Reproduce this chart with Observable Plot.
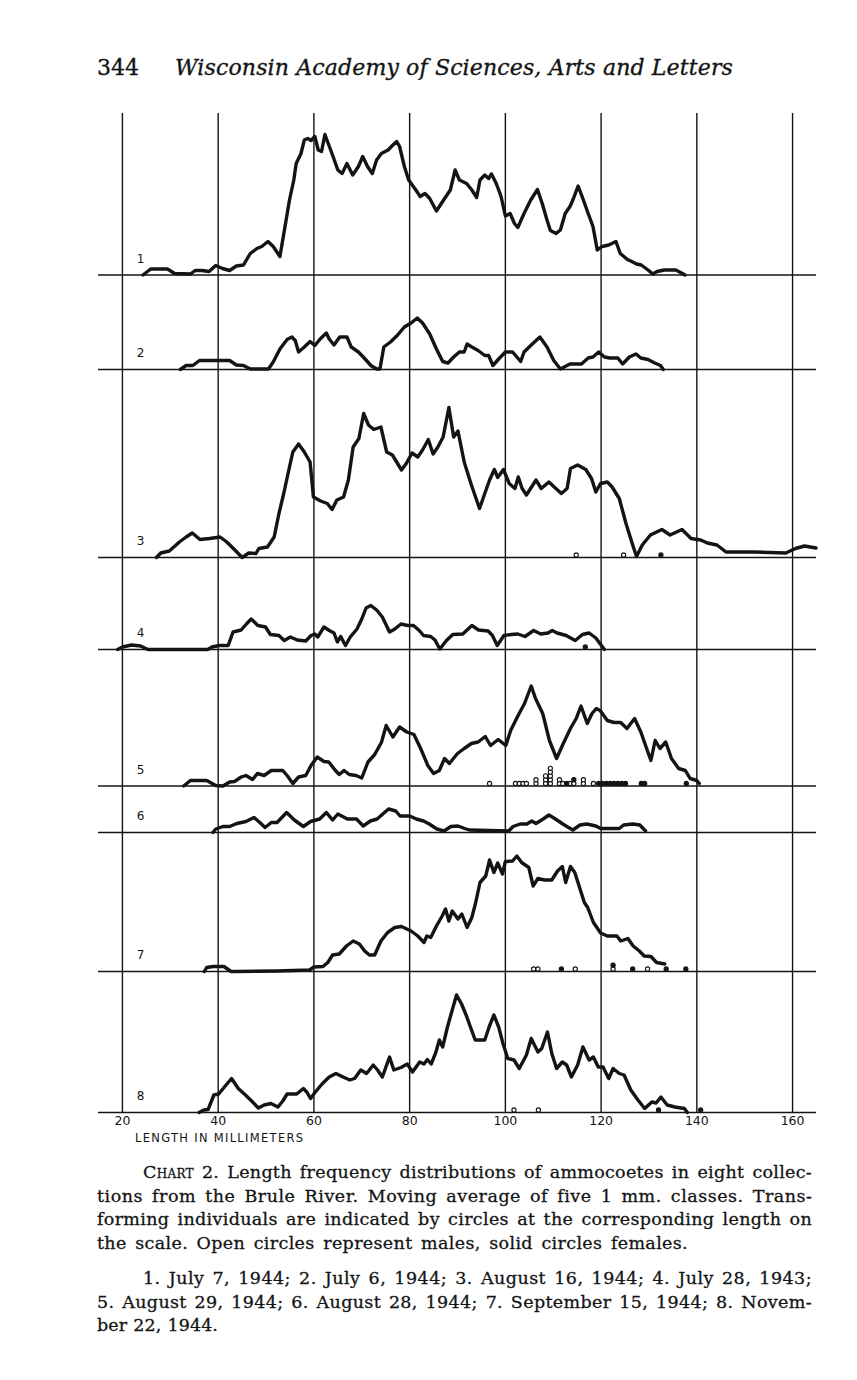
<!DOCTYPE html>
<html><head><meta charset="utf-8">
<script src="https://cdn.jsdelivr.net/npm/d3@7"></script>
<script src="https://cdn.jsdelivr.net/npm/@observablehq/plot@0.6"></script>
<style>
html,body{margin:0;padding:0;background:#fff;}
body{width:857px;height:1380px;position:relative;overflow:hidden;color:#141414;}
#head{position:absolute;top:55px;left:0;font-family:"DejaVu Serif",serif;font-size:22px;line-height:25px;white-space:nowrap;-webkit-text-stroke:0.35px #141414;}
#pg{position:absolute;left:97px;top:0;}
#run{position:absolute;left:175px;top:0;font-style:italic;}
#chart{position:absolute;left:0;top:100px;}
#xlab{position:absolute;left:135px;top:1132px;font-family:"DejaVu Sans",sans-serif;font-size:11.5px;line-height:13px;letter-spacing:1.3px;white-space:nowrap;}
#cap{position:absolute;left:97px;top:1161px;width:715px;font-family:"DejaVu Serif",serif;font-size:17.5px;line-height:23.7px;-webkit-text-stroke:0.3px #141414;}
.ln{display:block;white-space:nowrap;}
.ln .t{display:inline-block;white-space:nowrap;}
.ind{padding-left:46px;}
.gap{margin-top:11px;}
.sc{font-variant:small-caps;}
</style>
</head><body>
<div id="head"><span id="pg">344</span><span id="run">Wisconsin Academy of Sciences, Arts and Letters</span></div>
<div id="chart"></div>
<div id="xlab">LENGTH IN MILLIMETERS</div>
<div id="cap">
  <div class="ln ind"><span class="t fit" data-w="669">C<span class="sc">hart</span> 2. Length frequency distributions of ammocoetes in eight collec-</span></div>
  <div class="ln"><span class="t fit" data-w="715">tions from the Brule River. Moving average of five 1 mm. classes. Trans-</span></div>
  <div class="ln"><span class="t fit" data-w="715">forming individuals are indicated by circles at the corresponding length on</span></div>
  <div class="ln"><span class="t fit" data-w="591">the scale. Open circles represent males, solid circles females.</span></div>
  <div class="ln ind gap"><span class="t fit" data-w="669">1. July 7, 1944; 2. July 6, 1944; 3. August 16, 1944; 4. July 28, 1943;</span></div>
  <div class="ln"><span class="t fit" data-w="715">5. August 29, 1944; 6. August 28, 1944; 7. September 15, 1944; 8. Novem-</span></div>
  <div class="ln"><span class="t fit" data-w="121">ber 22, 1944.</span></div>
</div>
<script>
// ---- data: length (mm) and moving-average frequency (individuals) per collection ----
const xTicks = [20, 40, 60, 80, 100, 120, 140, 160];
const panelIds = ["1", "2", "3", "4", "5", "6", "7", "8"];
// baseline of each collection on the stacked frequency scale
const panelBase = [167.5, 148.6, 111.0, 92.6, 65.3, 56.0, 28.2, 0];
const yTop = 199.8;

const curve1 = [[24.3,0],[25.9,1.2],[29.4,1.2],[30.9,0.3],[34.2,0.2],[35.2,0.9],[36.6,0.9],[38.1,0.7],[39.5,1.9],[40.9,1.3],[42.4,0.9],[43.8,1.8],[45.3,2.0],[46.7,4.3],[48.1,5.3],[49.1,5.7],[50.4,6.7],[51.5,5.7],[52.9,3.7],[53.9,9.3],[54.9,15.0],[55.8,19.0],[56.3,22.3],[57.3,24.3],[58.0,27.0],[58.7,27.3],[59.4,26.9],[60.2,27.7],[60.9,25.0],[61.6,24.7],[62.3,28.1],[63.0,26.3],[64.0,23.7],[65.0,21.0],[65.9,20.3],[66.9,22.3],[68.1,20.0],[69.3,21.7],[70.2,23.7],[71.2,21.7],[72.2,20.3],[73.1,23.0],[74.1,24.3],[75.5,25.0],[76.5,26.0],[77.3,26.7],[77.9,25.7],[78.9,21.7],[79.8,19.0],[81.3,17.0],[82.2,15.7],[83.2,16.3],[84.2,15.3],[85.6,12.8],[87.1,15.0],[88.5,17.0],[89.5,21.0],[90.4,19.0],[91.9,18.3],[93.0,17.0],[94.0,15.5],[94.7,19.0],[95.7,20.0],[96.5,19.3],[97.1,20.2],[98.1,18.3],[99.1,15.7],[100.0,11.8],[101.0,12.3],[101.9,10.3],[102.6,9.5],[103.9,12.3],[105.3,15.0],[106.7,17.1],[107.7,14.3],[108.7,11.0],[109.4,8.9],[110.6,8.3],[111.5,9.0],[112.5,12.3],[113.5,13.7],[114.1,15.0],[115.2,17.8],[116.3,15.0],[117.3,12.3],[118.3,9.7],[119.2,5.0],[120.2,5.7],[121.6,6.0],[123.1,6.7],[124.0,4.3],[125.5,3.1],[126.4,2.7],[127.4,2.2],[128.4,2.0],[129.8,1.0],[130.8,0.2],[131.7,0.7],[133.2,1.0],[135.6,1.0],[137.0,0.3],[137.5,0]];
const curve2 = [[32.1,0],[33.3,0.8],[34.7,0.8],[36.1,1.8],[42.4,1.8],[43.8,0.9],[45.3,0.8],[46.7,0.1],[50.5,0.1],[51.5,1.5],[52.9,4.1],[54.4,6.0],[55.4,6.5],[56.1,5.8],[56.8,3.5],[58.0,4.5],[59.2,5.6],[60.2,4.8],[61.3,6.1],[62.6,7.3],[63.2,6.1],[64.2,4.9],[65.4,6.5],[66.9,6.5],[67.8,4.5],[69.3,3.5],[70.7,2.1],[71.9,0.8],[73.1,0.1],[73.8,0.1],[74.6,4.5],[76.0,5.5],[77.4,6.8],[78.9,8.5],[80.3,9.3],[81.6,10.3],[82.7,9.3],[84.2,7.1],[85.6,4.1],[86.9,1.6],[88.0,1.3],[89.2,2.5],[90.4,3.5],[91.4,3.5],[92.0,5.1],[93.0,4.5],[94.3,3.8],[95.7,2.8],[96.5,2.8],[97.4,0.8],[98.6,2.1],[100.0,3.5],[101.5,3.5],[102.4,2.5],[103.2,1.6],[103.9,3.5],[105.3,4.8],[107.2,6.5],[108.7,4.5],[110.1,1.8],[111.5,0.1],[113.5,1.1],[115.9,1.1],[117.3,2.3],[118.3,2.5],[119.5,3.5],[120.7,2.5],[121.8,2.3],[123.5,2.3],[124.5,1.1],[125.9,2.5],[127.3,3.1],[128.3,2.3],[129.8,2.0],[131.2,1.3],[132.4,0.8],[133.0,0]];
const curve3 = [[27.1,0],[28.0,0.9],[29.8,1.3],[31.9,3.1],[33.3,4.1],[34.6,4.9],[36.2,3.6],[38.2,3.8],[40.4,4.1],[41.8,3.1],[43.5,1.5],[45.0,0],[46.4,0.9],[47.9,0.8],[48.5,1.8],[50.3,2.1],[51.7,4.1],[52.7,8.8],[53.7,12.8],[54.6,16.8],[55.6,21.1],[56.8,22.7],[58.0,21.1],[59.2,19.1],[59.9,12.1],[61.4,11.3],[62.8,10.8],[63.8,9.6],[64.8,11.5],[66.2,12.1],[67.2,15.5],[68.2,22.1],[69.4,23.8],[70.4,28.8],[71.4,26.5],[72.5,25.6],[74.0,26.1],[75.2,21.1],[76.4,20.5],[78.3,17.5],[79.3,18.8],[80.5,20.9],[81.7,20.1],[82.7,21.5],[83.9,23.6],[84.9,20.7],[85.9,22.1],[87.0,24.1],[88.2,30.0],[89.2,24.1],[90.1,25.3],[91.4,19.1],[92.8,14.8],[94.6,9.8],[95.7,12.8],[96.7,15.5],[97.7,17.6],[98.4,16.0],[99.6,17.6],[100.8,14.8],[102.0,13.8],[102.7,16.1],[103.5,13.8],[104.4,12.5],[106.4,15.5],[107.5,13.8],[109.1,15.1],[110.2,14.1],[111.7,12.8],[112.9,13.8],[113.6,17.8],[115.1,18.5],[116.8,17.6],[118.0,15.8],[118.9,13.1],[119.9,14.8],[121.3,15.1],[122.3,14.1],[123.8,11.8],[125.2,6.8],[126.5,2.8],[127.4,0.2],[128.6,2.5],[130.3,4.5],[132.7,5.6],[134.4,4.5],[136.9,5.6],[138.8,3.8],[140.8,3.5],[142.2,2.9],[144.2,2.5],[146.1,1.1],[151.9,1.1],[158.6,0.9],[160.6,1.8],[162.5,2.3],[164.9,1.9]];
const curve4 = [[19.0,0],[20.0,0.5],[21.9,0.9],[23.8,0.7],[25.3,0],[37.8,0],[38.7,0.5],[40.2,0.8],[42.1,0.8],[43.1,3.5],[44.8,3.9],[45.9,5.1],[46.9,6.1],[48.3,4.8],[49.9,4.5],[50.9,3.0],[52.7,2.8],[53.8,1.8],[55.1,2.5],[56.5,1.9],[58.3,1.7],[59.4,2.8],[60.2,3.1],[60.8,2.5],[62.1,4.5],[63.2,3.8],[64.2,3.3],[64.9,1.5],[65.6,2.6],[66.6,0.8],[67.6,2.5],[69.0,4.1],[70.0,6.1],[70.9,8.3],[71.9,8.8],[73.1,7.9],[74.3,6.5],[75.8,3.5],[76.9,4.1],[78.2,5.1],[79.6,4.8],[80.8,4.8],[82.0,3.8],[82.9,2.8],[84.4,2.6],[85.3,1.9],[86.3,0.1],[87.7,1.8],[89.0,3.0],[91.1,3.1],[93.0,4.8],[94.4,3.9],[96.4,3.7],[97.3,2.8],[98.3,0.8],[99.7,2.8],[101.2,3.0],[102.6,3.1],[104.1,2.6],[105.9,3.8],[107.4,3.1],[108.9,3.3],[109.8,3.8],[110.8,3.3],[112.7,2.8],[114.6,1.8],[116.1,3.0],[117.5,3.3],[118.9,2.3],[119.9,1.0],[120.7,0]];
const curve5 = [[32.8,0],[34.2,1.1],[37.6,1.1],[39.5,0.1],[41.0,0],[42.4,0.8],[43.4,0.9],[44.8,1.8],[45.8,2.1],[47.2,1.3],[48.2,2.5],[49.6,2.1],[51.1,3.1],[53.5,3.1],[54.4,2.1],[55.6,0.5],[56.8,1.8],[58.3,2.1],[59.4,4.1],[60.7,5.8],[62.1,4.9],[63.1,4.8],[64.5,3.1],[65.3,2.3],[66.3,3.1],[67.4,2.3],[68.8,2.1],[70.0,1.6],[71.3,4.8],[72.7,6.3],[74.1,8.7],[75.1,12.1],[76.5,9.8],[77.9,11.8],[79.4,10.8],[80.9,10.3],[82.3,7.5],[83.8,4.1],[85.0,2.5],[86.2,3.1],[87.3,5.5],[88.3,4.5],[90.0,6.5],[91.4,7.5],[92.9,8.5],[94.3,8.8],[95.8,9.9],[96.9,8.1],[98.5,9.3],[100.1,8.1],[101.1,11.1],[102.5,13.8],[104.0,16.5],[105.4,20.0],[106.3,17.5],[107.8,14.5],[109.2,9.1],[110.7,5.5],[112.1,8.5],[113.6,11.5],[114.8,13.5],[115.8,16.0],[117.1,12.5],[118.1,14.5],[119.0,15.5],[119.8,15.1],[121.3,13.1],[122.7,12.7],[124.1,12.7],[125.4,11.5],[127.0,13.5],[128.3,10.8],[129.4,7.8],[130.4,5.1],[131.3,9.1],[132.3,7.5],[133.5,8.8],[134.7,5.5],[136.2,3.5],[137.6,3.1],[138.6,1.5],[140.0,1.1],[140.5,0.5]];
const curve6 = [[38.9,0],[39.5,0.7],[41.0,1.2],[42.4,1.2],[43.9,1.8],[45.8,2.2],[47.5,3.0],[48.7,2.0],[49.8,1.0],[51.1,2.0],[52.3,2.0],[54.3,4.0],[55.9,2.5],[57.8,1.2],[59.3,2.2],[61.2,2.7],[62.6,4.0],[63.9,2.5],[65.0,3.7],[67.0,2.7],[68.9,2.7],[70.3,1.3],[71.8,2.3],[73.2,2.7],[75.6,4.7],[77.1,4.3],[78.0,3.3],[80.0,3.3],[81.4,2.7],[82.9,2.3],[84.1,1.7],[85.7,0.7],[87.2,0.3],[88.6,1.2],[90.1,1.3],[91.5,0.8],[92.5,0.5],[100.7,0.3],[101.6,1.2],[103.1,1.7],[104.5,1.7],[105.5,2.3],[106.4,1.8],[107.9,2.7],[109.1,3.5],[110.3,2.8],[112.0,1.7],[113.2,1.0],[114.1,0.5],[115.6,1.5],[117.0,1.7],[118.9,1.3],[119.9,0.8],[123.8,0.8],[124.7,1.5],[126.6,1.7],[128.1,1.5],[129.3,0.3]];
const curve7 = [[37.1,0],[37.6,0.8],[39.0,1.0],[41.2,1.0],[42.7,0],[43.6,0],[52.3,0.1],[59.1,0.3],[60.0,0.9],[61.9,1.0],[62.9,1.8],[63.9,3.3],[65.3,3.5],[66.8,5.1],[68.2,6.1],[69.5,5.5],[70.6,4.1],[71.6,3.3],[72.7,3.3],[74.0,6.1],[75.4,7.8],[76.9,8.8],[78.3,9.0],[80.3,8.1],[81.7,7.1],[83.0,5.8],[83.6,7.1],[84.4,6.8],[85.6,9.1],[86.8,11.1],[87.5,12.5],[88.2,10.1],[88.9,12.1],[90.1,10.5],[90.9,11.5],[92.0,8.8],[93.0,10.8],[93.8,13.8],[94.7,17.8],[95.9,19.1],[96.7,22.3],[97.6,19.8],[98.4,21.7],[99.4,19.5],[100.0,22.0],[101.5,22.1],[102.4,23.1],[103.4,21.8],[104.9,20.8],[105.8,17.1],[106.8,18.6],[108.2,18.3],[109.7,18.3],[110.9,20.1],[111.9,21.0],[112.6,17.8],[113.6,21.0],[114.5,19.8],[115.5,16.8],[116.5,13.8],[117.2,12.8],[118.4,9.8],[119.9,7.7],[121.3,7.1],[123.3,7.1],[124.1,6.1],[125.6,6.6],[126.7,5.1],[128.0,4.1],[129.0,3.1],[130.4,3.0],[131.6,1.8],[133.3,1.5]];
const curve8 = [[36.0,0],[37.0,0.5],[37.9,0.6],[39.1,3.5],[40.1,3.7],[41.3,5.1],[42.8,6.8],[44.2,4.8],[45.7,3.5],[47.2,2.1],[48.4,0.9],[49.6,1.5],[51.0,1.8],[52.5,1.1],[53.5,2.3],[54.4,3.7],[56.4,3.7],[57.8,4.8],[58.5,4.1],[59.3,2.8],[60.3,4.1],[61.7,5.7],[63.2,7.1],[64.6,7.8],[66.1,7.1],[67.5,6.5],[68.5,6.8],[69.8,8.5],[71.0,7.8],[72.4,9.5],[73.3,8.5],[74.3,7.1],[75.8,11.1],[76.7,8.5],[78.2,9.0],[79.5,9.7],[80.6,8.1],[82.1,10.1],[83.0,9.7],[83.7,10.6],[84.5,9.7],[85.5,12.1],[86.2,14.5],[86.9,13.1],[87.9,17.1],[88.9,20.5],[89.8,23.5],[90.8,21.8],[91.8,19.5],[92.7,17.1],[93.7,14.5],[95.7,14.5],[96.6,17.1],[97.6,19.5],[98.6,17.1],[99.5,13.8],[100.5,10.8],[101.8,10.5],[102.9,8.8],[104.4,11.5],[105.4,14.8],[106.8,12.1],[107.6,12.8],[108.8,16.1],[109.7,11.8],[110.7,8.8],[111.9,10.1],[112.8,9.5],[113.8,7.1],[115.1,9.5],[116.2,13.1],[117.5,10.5],[118.4,11.1],[119.4,9.1],[120.4,9.1],[121.6,6.8],[122.5,8.8],[123.8,7.8],[124.8,7.5],[126.2,4.5],[127.7,2.5],[129.1,0.8],[130.6,2.1],[131.5,1.9],[132.5,3.1],[133.8,1.5],[135.4,1.1],[137.4,0.8],[138.0,0]];

// transforming individuals (length, mm): open = males, solid = females
const males3 = [114.8, 124.7];
const females3 = [132.5];
const females4 = [116.7];
const males5 = [96.7, 102.1, 102.9, 103.7, 104.4, 106.4, 106.4, 108.4, 108.4, 108.4, 109.4, 109.4, 109.4, 109.4, 109.4, 111.3, 111.3, 112.0, 113.5, 114.3, 116.3, 116.3, 118.4];
const females5 = [112.8, 114.3, 119.5, 120.3, 121.1, 121.9, 122.7, 123.5, 124.3, 125.1, 128.4, 129.1, 137.8];
const males7 = [105.9, 106.8, 114.6, 122.5, 129.7];
const females7 = [111.7, 122.5, 126.6, 133.6, 137.7];
const males8 = [101.8, 106.9];
const females8 = [132.0, 140.8];

// ---- build tables ----
const ink = "#141414";
const curves = [curve1, curve2, curve3, curve4, curve5, curve6, curve7, curve8];
const lineRows = curves.flatMap((c, i) => c.map(([mm, n]) => ({panel: panelIds[i], mm, n, base: panelBase[i]})));
const circleSets = [[2, males3, females3], [3, [], females4], [4, males5, females5], [6, males7, females7], [7, males8, females8]];
const dotRows = [];
for (const [pi, ms, fs] of circleSets) {
  const seen = new Map();
  for (const [list, sex] of [[ms, "M"], [fs, "F"]]) {
    for (const mm of list) {
      const k = mm.toFixed(1);
      const level = seen.get(k) || 0;
      seen.set(k, level + 1);
      dotRows.push({mm, sex, level, base: panelBase[pi]});
    }
  }
}

const chart = Plot.plot({
  width: 857, height: 1034,
  marginLeft: 98, marginRight: 41, marginTop: 13, marginBottom: 22,
  x: {domain: [15, 165], label: null},
  y: {domain: [0, yTop], axis: null},
  style: {fontFamily: "'DejaVu Sans', sans-serif", color: ink, background: "transparent", overflow: "visible"},
  marks: [
    Plot.ruleX(xTicks, {y1: 0, y2: yTop, stroke: ink, strokeWidth: 1.4}),
    Plot.ruleY(panelBase, {stroke: ink, strokeWidth: 1.7}),
    Plot.line(lineRows, {x: "mm", y: d => d.base + d.n, z: "panel", stroke: ink, strokeWidth: 3.4, strokeLinejoin: "round", strokeLinecap: "round"}),
    Plot.dot(dotRows, {x: "mm", y: d => d.base + 0.5 + d.level * 0.76, r: 2.1, fill: d => d.sex === "F" ? ink : "white", stroke: ink, strokeWidth: 1.1}),
    Plot.text(panelIds, {y: (d, i) => panelBase[i], text: d => d, frameAnchor: "left", dx: 42, dy: -16, textAnchor: "middle", fontSize: 12, fill: ink}),
    Plot.axisX(xTicks, {tickSize: 0, tickPadding: 4, fontSize: 12.5, fill: ink, label: null})
  ]
});
document.getElementById("chart").appendChild(chart);

// fit header and caption lines to the page measure
const run = document.getElementById("run");
const rw = run.getBoundingClientRect().width;
run.style.letterSpacing = ((558 - rw) / run.textContent.length) + "px";
document.querySelectorAll(".fit").forEach(el => {
  const target = +el.dataset.w;
  const w = el.getBoundingClientRect().width;
  const d = target - w;
  const chars = el.textContent.length;
  const spaces = (el.textContent.match(/ /g) || []).length;
  if (spaces) {
    el.style.letterSpacing = (d * 0.5 / chars) + "px";
    el.style.wordSpacing = (d * 0.5 / spaces) + "px";
  } else {
    el.style.letterSpacing = (d / chars) + "px";
  }
});
</script>
</body></html>
